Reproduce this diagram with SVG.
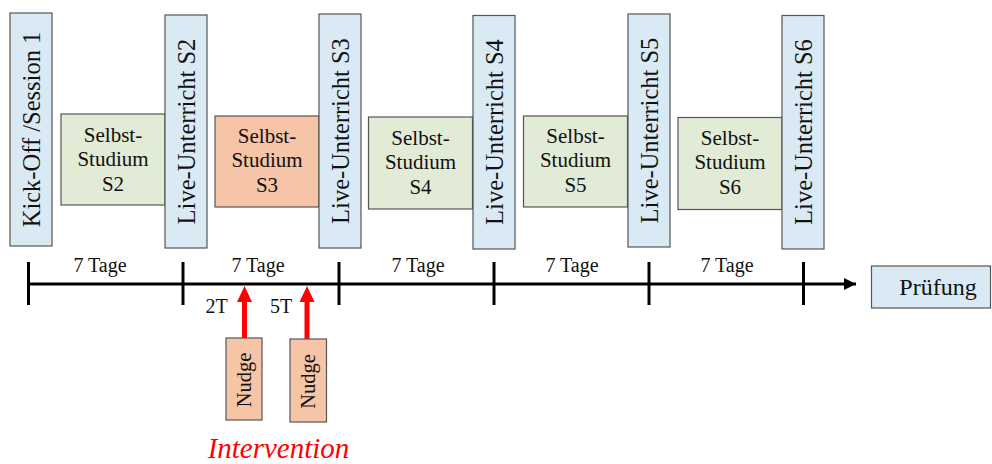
<svg xmlns="http://www.w3.org/2000/svg" width="992" height="464" viewBox="0 0 992 464" font-family="'Liberation Serif', 'Times New Roman', Times, 'DejaVu Serif', serif">
  <style>
    text { fill: #111; }
    .box { stroke: #555; stroke-width: 1.2; }
    .live { fill: #daeaf4; }
    .self { fill: #e1ebd6; }
    .hot { fill: #f6c4a6; }
    .vlabel { font-size: 24.5px; text-anchor: middle; dominant-baseline: central; }
    .slabel { font-size: 21px; text-anchor: middle; }
    .nlabel { font-size: 20.5px; text-anchor: middle; dominant-baseline: central; }
    .days { font-size: 20px; text-anchor: middle; }
    .tick { stroke: #000; stroke-width: 3; }
    .nudge-arrow { stroke: #ff0000; stroke-width: 5; fill: none; }
  </style>
  <defs>
    <marker id="axisHead" viewBox="0 0 10 10" refX="10" refY="5" markerWidth="4" markerHeight="4" orient="auto" markerUnits="strokeWidth">
      <path d="M0,0 L10,5 L0,10 z" fill="#000"/>
    </marker>
  </defs>

  <!-- Sessions -->
  <g id="kickoff">
    <rect class="box live" x="10" y="13" width="42" height="233"/>
    <text class="vlabel" transform="translate(31,129.5) rotate(-90)">Kick-Off /Session 1</text>
  </g>

  <g id="selbst-s2">
    <rect class="box self" x="61" y="114" width="104" height="91"/>
    <text class="slabel" x="113" y="141.5">Selbst-</text>
    <text class="slabel" x="113" y="165.5">Studium</text>
    <text class="slabel" x="113" y="190.5">S2</text>
  </g>
  <g id="live-s2">
    <rect class="box live" x="165" y="15" width="42" height="233"/>
    <text class="vlabel" transform="translate(186,131.5) rotate(-90)">Live-Unterricht S2</text>
  </g>

  <g id="selbst-s3">
    <rect class="box hot" x="215" y="116" width="104" height="91"/>
    <text class="slabel" x="267" y="143">Selbst-</text>
    <text class="slabel" x="267" y="167">Studium</text>
    <text class="slabel" x="267" y="192">S3</text>
  </g>
  <g id="live-s3">
    <rect class="box live" x="319" y="14" width="42" height="234"/>
    <text class="vlabel" transform="translate(340,131) rotate(-90)">Live-Unterricht S3</text>
  </g>

  <g id="selbst-s4">
    <rect class="box self" x="368.5" y="117" width="104" height="92"/>
    <text class="slabel" x="420.5" y="144.5">Selbst-</text>
    <text class="slabel" x="420.5" y="168.5">Studium</text>
    <text class="slabel" x="420.5" y="193.5">S4</text>
  </g>
  <g id="live-s4">
    <rect class="box live" x="473" y="15.5" width="42" height="233.5"/>
    <text class="vlabel" transform="translate(494,132) rotate(-90)">Live-Unterricht S4</text>
  </g>

  <g id="selbst-s5">
    <rect class="box self" x="523.5" y="116" width="104" height="91"/>
    <text class="slabel" x="575.5" y="143">Selbst-</text>
    <text class="slabel" x="575.5" y="167">Studium</text>
    <text class="slabel" x="575.5" y="192">S5</text>
  </g>
  <g id="live-s5">
    <rect class="box live" x="628" y="14" width="42" height="233"/>
    <text class="vlabel" transform="translate(649,130.5) rotate(-90)">Live-Unterricht S5</text>
  </g>

  <g id="selbst-s6">
    <rect class="box self" x="678" y="117.5" width="104" height="92"/>
    <text class="slabel" x="730" y="144.5">Selbst-</text>
    <text class="slabel" x="730" y="168.5">Studium</text>
    <text class="slabel" x="730" y="193.5">S6</text>
  </g>
  <g id="live-s6">
    <rect class="box live" x="782" y="15.5" width="42" height="233.5"/>
    <text class="vlabel" transform="translate(803,132) rotate(-90)">Live-Unterricht S6</text>
  </g>

  <g id="pruefung">
    <rect class="box live" x="871.5" y="266" width="119" height="42"/>
    <text x="938" y="295" font-size="24" text-anchor="middle">Prüfung</text>
  </g>

  <!-- Timeline and connectors -->
  <g id="connectors">
    <line x1="28" y1="284" x2="856" y2="284" stroke="#000" stroke-width="3" marker-end="url(#axisHead)"/>
    <line class="tick" x1="28.5" y1="262" x2="28.5" y2="305"/>
    <line class="tick" x1="183" y1="262" x2="183" y2="305"/>
    <line class="tick" x1="339" y1="262" x2="339" y2="305"/>
    <line class="tick" x1="494" y1="262" x2="494" y2="305"/>
    <line class="tick" x1="649" y1="262" x2="649" y2="305"/>
    <line class="tick" x1="803.5" y1="262" x2="803.5" y2="305"/>

    <line class="nudge-arrow" x1="244.5" y1="338" x2="244.5" y2="300"/>
    <path d="M237,302 L244.5,286 L252,302 z" fill="#ff0000"/>
    <line class="nudge-arrow" x1="307" y1="339" x2="307" y2="300"/>
    <path d="M299.5,302 L307,286 L314.5,302 z" fill="#ff0000"/>
  </g>

  <!-- Interval labels -->
  <g id="intervals">
    <text class="days" x="100" y="271.5">7 Tage</text>
    <text class="days" x="258" y="271.5">7 Tage</text>
    <text class="days" x="418" y="271.5">7 Tage</text>
    <text class="days" x="572" y="271.5">7 Tage</text>
    <text class="days" x="727" y="271.5">7 Tage</text>
    <text class="days" x="216.5" y="313">2T</text>
    <text class="days" x="281" y="313">5T</text>
  </g>

  <!-- Nudges -->
  <g id="nudge-1">
    <rect class="box hot" x="226" y="338" width="36" height="82"/>
    <text class="nlabel" transform="translate(244,380) rotate(-90)">Nudge</text>
  </g>
  <g id="nudge-2">
    <rect class="box hot" x="290" y="339" width="36.5" height="83"/>
    <text class="nlabel" transform="translate(308,381.5) rotate(-90)">Nudge</text>
  </g>

  <g id="intervention">
    <text x="278.5" y="458" font-size="29" font-style="italic" text-anchor="middle" fill="#ff0000" style="fill:#ff0000">Intervention</text>
  </g>
</svg>
